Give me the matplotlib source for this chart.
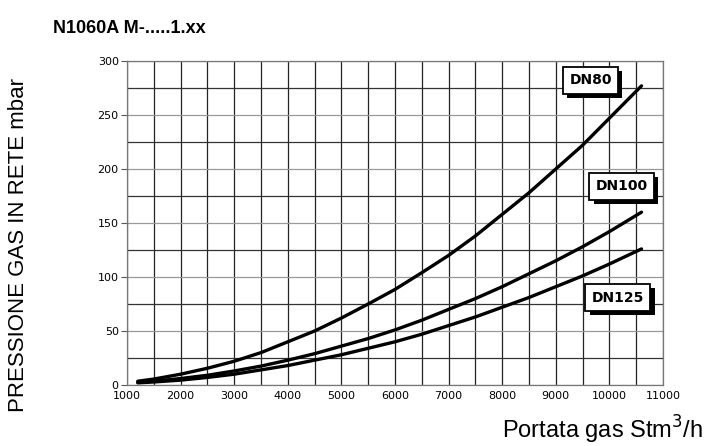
import numpy as np
import matplotlib
matplotlib.use("Agg")
import matplotlib.pyplot as plt
import matplotlib.patheffects as pe

plt.rcParams['font.family'] = ['Liberation Sans', 'DejaVu Sans']

# portata gas (Stm3/h) and pressione (mbar)
portata = [1200, 1500, 2000, 2500, 3000, 3500, 4000, 4500, 5000, 5500, 6000,
           6500, 7000, 7500, 8000, 8500, 9000, 9500, 10000, 10600]
dn80 = [3.5, 5.5, 10, 15.5, 22, 30, 40, 50, 62, 75, 88.5,
        104, 120, 138, 158, 178, 200, 222, 247, 277]
dn100 = [2.5, 3.5, 6, 9, 13, 17.5, 23, 29, 36, 43, 51,
         60, 70, 80, 91, 103, 115, 128, 142, 160]
dn125 = [2, 2.8, 4.5, 7, 10, 14, 18, 23, 28, 34, 40,
         47, 55, 63, 72, 81, 91, 101, 112, 126]

series_names = ["DN80", "DN100", "DN125"]
label_pos = [(9650, 282), (10230, 184), (10160, 81)]

xticks = list(range(1000, 11001, 1000))
yticks = list(range(0, 301, 50))

fig = plt.figure(figsize=(7.06, 4.46), dpi=100)
ax = fig.add_axes([0.18, 0.1368, 0.759, 0.7264])

# grid
for x in range(1000, 11001, 500):
    ax.axvline(x, color='#222222', lw=0.9, zorder=1)
for y in range(0, 301, 25):
    c = '#999999' if y % 50 == 0 else '#333333'
    ax.axhline(y, color=c, lw=0.9, zorder=1)

for ys in [dn80, dn100, dn125]:
    ax.plot(portata, ys, color='black', lw=2.4, solid_capstyle='round',
            solid_joinstyle='round', zorder=3)

for name, (lx, ly) in zip(series_names, label_pos):
    t = ax.text(lx, ly, name, ha='center', va='center', fontsize=10, fontweight='bold',
                family='DejaVu Sans',
                bbox=dict(boxstyle='square,pad=0.45', fc='white', ec='black', lw=1.3), zorder=5)
    t.get_bbox_patch().set_path_effects([
        pe.SimplePatchShadow(offset=(3, -3), shadow_rgbFace='black', alpha=1.0),
        pe.Normal()])

ax.set_xlim(1000, 11000)
ax.set_ylim(0, 300)
ax.set_xticks(xticks)
ax.set_yticks(yticks)
ax.tick_params(axis='both', labelsize=8, length=4, width=0.8, color='#555555', pad=2,
               labelfontfamily='DejaVu Sans')
ax.tick_params(axis='x', length=0, pad=4)
for s in ax.spines.values():
    s.set_color('#777777')
    s.set_linewidth(0.9)

arial = ['Liberation Sans', 'DejaVu Sans']
fig.text(0.026, 0.45, "PRESSIONE GAS IN RETE mbar", rotation=90, ha='center', va='center',
         fontsize=16, family=arial)
fig.text(0.996, 0.036, "Portata gas Stm$^3$/h", ha='right', va='center', fontsize=17,
         family=arial)
fig.text(0.075, 0.937, "N1060A M-.....1.xx", ha='left', va='center', fontsize=13,
         fontweight='bold', family=arial)

fig.savefig("out.png", dpi=100)
